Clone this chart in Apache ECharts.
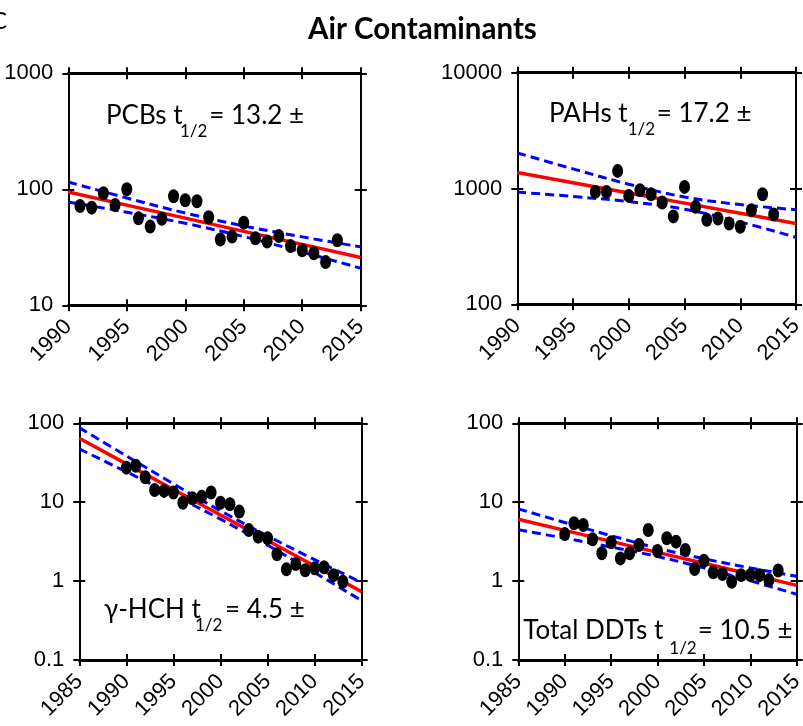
<!DOCTYPE html>
<html><head><meta charset="utf-8">
<script src="https://cdn.jsdelivr.net/npm/echarts@6/dist/echarts.min.js"></script>
<style>html,body{margin:0;padding:0;background:#fff}#c{width:803px;height:726px}</style>
</head><body><div id="c"></div>
<script>
// ---------- DATA ----------
const pcbYears = [1991,1992,1993,1994,1995,1996,1997,1998,1999,2000,2001,2002,2003,2004,2005,2006,2007,2008,2009,2010,2011,2012,2013];
const pcbValues = [71.8,69.5,92.4,73.3,100,56.2,47.7,55.8,87,80.4,78.8,57.4,36.9,39.1,51.6,37.8,35.4,39.6,32.4,29.8,28.1,23.6,36.4];
const pcbFitYears = [1990,1995,2000,2005,2010,2015];
const pcbFit = [94.9,73.1,56.4,43.4,33.5,25.8];
const pcbUpper = [115.6,84.1,62.4,48.3,38.9,31.9];
const pcbLower = [77.8,63.5,50.9,39.1,28.8,20.9];

const pahYears = [1997,1998,1999,2000,2001,2002,2003,2004,2005,2006,2007,2008,2009,2010,2011,2012,2013];
const pahValues = [935,935,1419,863,967,893,757,574,1032,694,536,551,499,467,650,893,597];
const pahFitYears = [1990,1995,2000,2005,2010,2015];
const pahFit = [1374,1122,916,748,611,499];
const pahUpper = [2028,1476,1089,844,726,656];
const pahLower = [931,853,771,663,514,379];

const hchYears = [1990,1991,1992,1993,1994,1995,1996,1997,1998,1999,2000,2001,2002,2003,2004,2005,2006,2007,2008,2009,2010,2011,2012,2013];
const hchValues = [27.4,29.0,20.7,14.3,13.9,13.3,9.86,11.2,11.7,13.3,9.86,9.4,7.6,4.45,3.66,3.49,2.19,1.41,1.65,1.37,1.45,1.5,1.19,0.98];
const hchFitYears = [1985,1990,1995,2000,2005,2010,2015];
const hchFit = [64.6,30.6,14.5,6.89,3.27,1.55,0.734];
const hchUpper = [88.1,38.6,17.1,7.78,3.73,1.87,0.955];
const hchLower = [47.3,24.3,12.3,6.10,2.86,1.28,0.565];

const ddtYears = [1990,1991,1992,1993,1994,1995,1996,1997,1998,1999,2000,2001,2002,2003,2004,2005,2006,2007,2008,2009,2010,2011,2012,2013];
const ddtValues = [3.95,5.40,5.14,3.39,2.25,3.1,1.94,2.25,2.87,4.45,2.41,3.49,3.16,2.48,1.42,1.81,1.29,1.23,0.98,1.19,1.19,1.19,1.03,1.36];
const ddtFitYears = [1985,1990,1995,2000,2005,2010,2015];
const ddtFit = [6.07,4.40,3.19,2.31,1.68,1.22,0.883];
const ddtUpper = [8.24,5.53,3.76,2.61,1.92,1.47,1.15];
const ddtLower = [4.47,3.50,2.71,2.05,1.47,1.01,0.681];

const titleText = 'Air Contaminants';
const labelsMain = ['PCBs t', 'PAHs t', 'γ-HCH t', 'Total DDTs t'];
const labelsSub = ['1/2', '1/2', '1/2', '1/2'];
const labelsTail = ['= 13.2 ±', '= 17.2 ±', '= 4.5 ±', '= 10.5 ±'];
const xRanges = [[1990,2015],[1990,2015],[1985,2015],[1985,2015]];
const yRanges = [[10,1000],[100,10000],[0.1,100],[0.1,100]];

// ---------- LAYOUT ----------
const narrow = "'Liberation Sans',Arial,sans-serif";
const sansF = "Lato, 'Open Sans', sans-serif";
const grids = [
  {left:68.3, top:73.3, width:292.4, height:232},
  {left:517.3, top:72.7, width:278.7, height:231.6},
  {left:79.3, top:423.3, width:282.4, height:236.7},
  {left:518.3, top:423.3, width:278.4, height:236.7}
];
const panels = [
  {years:pcbYears, vals:pcbValues, fx:pcbFitYears, fit:pcbFit, up:pcbUpper, lo:pcbLower},
  {years:pahYears, vals:pahValues, fx:pahFitYears, fit:pahFit, up:pahUpper, lo:pahLower},
  {years:hchYears, vals:hchValues, fx:hchFitYears, fit:hchFit, up:hchUpper, lo:hchLower},
  {years:ddtYears, vals:ddtValues, fx:ddtFitYears, fit:ddtFit, up:ddtUpper, lo:ddtLower}
];
const zip = (a,b) => a.map((v,i)=>[v,b[i]]);
const fmtNum = v => String(+(+v).toPrecision(4));
const lblFont = {fontSize:22, fontFamily:narrow, color:'#000'};

const xAxis = [], yAxis = [], series = [];
grids.forEach((g,i) => {
  const xr = xRanges[i], yr = yRanges[i];
  const tick = (inside) => ({show:true, inside, length:6, lineStyle:{color:'#000', width:2}});
  const xb = {gridIndex:i, type:'value', min:xr[0], max:xr[1], interval:5, splitLine:{show:false}};
  xAxis.push(Object.assign({}, xb, {position:'bottom', axisLine:{show:true,onZero:false,lineStyle:{color:'#000',width:3}}, axisTick:tick(false),
    axisLabel:Object.assign({show:true, rotate:45, margin:18, formatter:fmtNum, showMinLabel:true, showMaxLabel:true}, lblFont)}));
  xAxis.push(Object.assign({}, xb, {position:'bottom', axisLine:{show:false,onZero:false}, axisTick:tick(true), axisLabel:{show:false}}));
  xAxis.push(Object.assign({}, xb, {position:'top', axisLine:{show:true,onZero:false,lineStyle:{color:'#000',width:3}}, axisTick:tick(false), axisLabel:{show:false}}));
  xAxis.push(Object.assign({}, xb, {position:'top', axisLine:{show:false,onZero:false}, axisTick:tick(true), axisLabel:{show:false}}));
  const yb = {gridIndex:i, type:'log', logBase:10, min:yr[0], max:yr[1], splitNumber:3, splitLine:{show:false}, minorTick:{show:false}};
  yAxis.push(Object.assign({}, yb, {position:'left', axisLine:{show:true,onZero:false,lineStyle:{color:'#000',width:2}}, axisTick:tick(false),
    axisLabel:Object.assign({show:true, margin:15, formatter:fmtNum, showMinLabel:true, showMaxLabel:true}, lblFont)}));
  yAxis.push(Object.assign({}, yb, {position:'left', axisLine:{show:false,onZero:false}, axisTick:tick(true), axisLabel:{show:false}}));
  yAxis.push(Object.assign({}, yb, {position:'right', axisLine:{show:true,onZero:false,lineStyle:{color:'#000',width:2}}, axisTick:tick(false), axisLabel:{show:false}}));
  yAxis.push(Object.assign({}, yb, {position:'right', axisLine:{show:false,onZero:false}, axisTick:tick(true), axisLabel:{show:false}}));
  const p = panels[i];
  const ax = {xAxisIndex:4*i, yAxisIndex:4*i};
  series.push(Object.assign({type:'line', data:zip(p.fx,p.up), showSymbol:false, smooth:0.35, silent:true, z:2,
    lineStyle:{color:'#0000ff', width:3, type:[9,5]}}, ax));
  series.push(Object.assign({type:'line', data:zip(p.fx,p.lo), showSymbol:false, smooth:0.35, silent:true, z:2,
    lineStyle:{color:'#0000ff', width:3, type:[9,5]}}, ax));
  series.push(Object.assign({type:'line', data:zip(p.fx,p.fit), showSymbol:false, silent:true, z:3,
    lineStyle:{color:'#ff0000', width:3.5}}, ax));
  series.push(Object.assign({type:'scatter', data:zip(p.years,p.vals), symbol:'circle', symbolSize:[11,14], silent:true, z:4,
    itemStyle:{color:'#000', opacity:1}}, ax));
});

// annotation placement (left x, baseline y)
const annPos = [
  {m:[106,123.3], s:[180,137], t:[209.3,123.3]},
  {m:[549,121.7], s:[627.7,135], t:[656.7,121.7]},
  {m:[104,617.3], s:[195,630.7], t:[225,617.3]},
  {m:[523.3,638.3], s:[669.3,653.3], t:[697.7,638.3]}
];
const BIG = 26, SUB = 17;
const graphic = [];
const txt = (s, x, yb, size, weight) => ({type:'text', silent:true, z:100, style:{text:s, x:x, y:yb - 0.3*size, font:(weight||'normal')+' '+size+'px '+sansF, fill:'#000', verticalAlign:'middle', align:'left'}});
annPos.forEach((a,i) => {
  graphic.push(txt(labelsMain[i], a.m[0], a.m[1], BIG));
  graphic.push(txt(labelsSub[i], a.s[0], a.s[1], SUB));
  graphic.push(txt(labelsTail[i], a.t[0], a.t[1], BIG));
});
graphic.push(txt(titleText, 308, 38.5, 29.5, 'bold'));
graphic.push(txt('C', -9, 28, 24));

const chart = echarts.init(document.getElementById('c'), null, {renderer:'canvas'});
chart.setOption({
  animation:false,
  backgroundColor:'#fff',
  grid: grids.map(g => Object.assign({outerBoundsMode:'none', containLabel:false}, g)),
  xAxis, yAxis, series, graphic
});
</script></body></html>
